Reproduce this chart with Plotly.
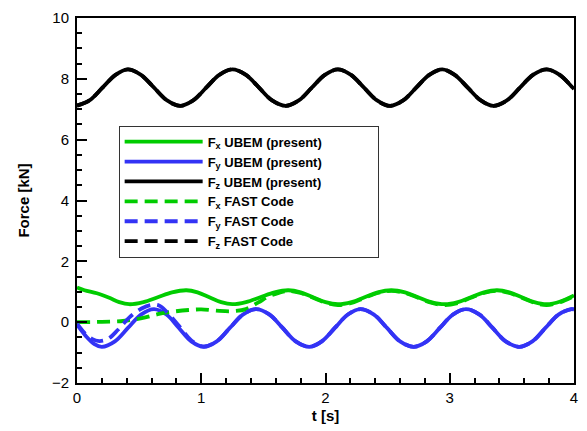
import plotly.graph_objects as go

# ---- data ----
t_fz = [0.0, 0.10, 0.205, 0.31, 0.41, 0.515, 0.62, 0.725, 0.83, 0.935, 1.04, 1.145, 1.25,
        1.36, 1.465, 1.57, 1.68, 1.785, 1.89, 1.995, 2.10, 2.205, 2.31, 2.415, 2.52,
        2.625, 2.73, 2.835, 2.94, 3.04, 3.145, 3.25, 3.35, 3.46, 3.565, 3.67, 3.78,
        3.885, 3.99, 4.0]
fz_ubem = [7.12, 7.29, 7.71, 8.13, 8.31, 8.13, 7.71, 7.29, 7.11, 7.29, 7.71, 8.13, 8.31,
           8.13, 7.71, 7.29, 7.11, 7.29, 7.71, 8.13, 8.31, 8.13, 7.71, 7.29, 7.11,
           7.29, 7.71, 8.13, 8.31, 8.13, 7.71, 7.29, 7.11, 7.29, 7.71, 8.13, 8.31,
           8.13, 7.71, 7.67]
fz_fast = [7.12, 7.29, 7.71, 8.13, 8.31, 8.13, 7.71, 7.29, 7.11, 7.29, 7.71, 8.13, 8.31,
           8.13, 7.71, 7.29, 7.11, 7.29, 7.71, 8.13, 8.31, 8.13, 7.71, 7.29, 7.11,
           7.29, 7.71, 8.13, 8.31, 8.13, 7.71, 7.29, 7.11, 7.29, 7.71, 8.13, 8.31,
           8.13, 7.71, 7.67]

t_fx = [0.0, 0.06, 0.16, 0.26, 0.34, 0.42, 0.535, 0.65, 0.765, 0.88, 0.97, 1.065, 1.16, 1.25,
        1.36, 1.475, 1.59, 1.70, 1.80, 1.90, 2.00, 2.10, 2.21, 2.315, 2.42, 2.53,
        2.64, 2.745, 2.85, 2.96, 3.065, 3.17, 3.275, 3.38, 3.48, 3.58, 3.68, 3.78,
        3.89, 4.0]
fx_ubem = [1.14, 1.05, 0.95, 0.80, 0.66, 0.59, 0.66, 0.82, 0.98, 1.05, 0.98, 0.82, 0.66, 0.59,
           0.66, 0.82, 0.98, 1.05, 0.98, 0.82, 0.66, 0.59, 0.66, 0.82, 0.98, 1.05,
           0.98, 0.82, 0.66, 0.59, 0.66, 0.82, 0.98, 1.05, 0.98, 0.82, 0.66, 0.59,
           0.68, 0.88]

t_fx_fast = [0.0, 0.20, 0.35, 0.45, 0.55, 0.66, 0.78, 0.90, 1.00, 1.12, 1.25, 1.36, 1.46,
             1.54, 1.63, 1.70, 1.80, 1.90, 2.00, 2.10, 2.21, 2.315, 2.42, 2.53,
             2.64, 2.745, 2.85, 2.96, 3.065, 3.17, 3.275, 3.38, 3.48, 3.58, 3.68, 3.78,
             3.89, 4.0]
fx_fast = [0.0, 0.01, 0.03, 0.08, 0.16, 0.27, 0.35, 0.40, 0.42, 0.38, 0.36, 0.43, 0.65,
           0.84, 0.97, 1.03, 0.96, 0.80, 0.64, 0.56, 0.63, 0.80, 0.96, 1.03,
           0.96, 0.80, 0.64, 0.56, 0.63, 0.80, 0.96, 1.03, 0.96, 0.80, 0.64, 0.56,
           0.66, 0.86]

t_fy = [0.0, 0.07, 0.14, 0.20, 0.305, 0.41, 0.515, 0.62, 0.72, 0.82, 0.92, 1.02,
        1.125, 1.23, 1.335, 1.44, 1.55, 1.655, 1.76, 1.87, 1.97, 2.075, 2.18, 2.28,
        2.39, 2.495, 2.60, 2.71, 2.815, 2.92, 3.025, 3.13, 3.24, 3.345, 3.45, 3.56,
        3.665, 3.77, 3.875, 3.98, 4.0]
fy_ubem = [-0.08, -0.45, -0.72, -0.81, -0.63, -0.19, 0.25, 0.43, 0.25, -0.19, -0.63, -0.81,
           -0.63, -0.19, 0.25, 0.43, 0.25, -0.19, -0.63, -0.81, -0.63, -0.19, 0.25, 0.43,
           0.25, -0.19, -0.63, -0.81, -0.63, -0.19, 0.25, 0.43, 0.25, -0.19, -0.63, -0.81,
           -0.63, -0.19, 0.25, 0.43, 0.42]

t_fy_fast = [0.0, 0.06, 0.12, 0.18, 0.25, 0.33, 0.42, 0.52, 0.60, 0.66, 0.72, 0.82, 0.92, 1.02,
             1.125, 1.23, 1.335, 1.44, 1.55, 1.655, 1.76, 1.87, 1.97, 2.075, 2.18, 2.28,
             2.39, 2.495, 2.60, 2.71, 2.815, 2.92, 3.025, 3.13, 3.24, 3.345, 3.45, 3.56,
             3.665, 3.77, 3.875, 3.98, 4.0]
fy_fast = [-0.05, -0.35, -0.55, -0.62, -0.55, -0.25, 0.15, 0.45, 0.57, 0.55, 0.35, -0.12, -0.60, -0.80,
           -0.63, -0.19, 0.25, 0.43, 0.25, -0.19, -0.63, -0.81, -0.63, -0.19, 0.25, 0.43,
           0.25, -0.19, -0.63, -0.81, -0.63, -0.19, 0.25, 0.43, 0.25, -0.19, -0.63, -0.81,
           -0.63, -0.19, 0.25, 0.43, 0.42]

legend_names = ["F<sub>x</sub> UBEM (present)", "F<sub>y</sub> UBEM (present)",
                "F<sub>z</sub> UBEM (present)", "F<sub>x</sub> FAST Code",
                "F<sub>y</sub> FAST Code", "F<sub>z</sub> FAST Code"]

GREEN = "#00cc00"
BLUE = "#3333f5"
BLACK = "#000000"
W = 3.8
DASH = "13px,7px"
FONT = "Liberation Sans, Arial"
PAD = "\u2800" * 5  # blank glyphs that widen the legend box to the reference's width

fig = go.Figure()
series = [
    (t_fx, fx_ubem, legend_names[0], GREEN, "solid"),
    (t_fy, fy_ubem, legend_names[1], BLUE, "solid"),
    (t_fz, fz_ubem, legend_names[2], BLACK, "solid"),
    (t_fx_fast, fx_fast, legend_names[3], GREEN, DASH),
    (t_fy_fast, fy_fast, legend_names[4], BLUE, DASH),
    (t_fz, fz_fast, legend_names[5], BLACK, DASH),
]
for i, (x, y, name, c, d) in enumerate(series):
    label = name + PAD if i == 0 else name
    fig.add_trace(go.Scatter(x=x, y=y, name=label, mode="lines",
                             line=dict(color=c, width=W, dash=d, shape="spline", smoothing=1.0)))

axis_common = dict(
    showgrid=False, zeroline=False, showline=True, linecolor="black", linewidth=2,
    mirror=True, ticks="inside", ticklen=10, tickwidth=1.5, tickcolor="black",
    tickfont=dict(family=FONT, size=15, color="black"),
)
fig.update_xaxes(range=[0, 4], dtick=1, tick0=0,
                 minor=dict(ticks="inside", ticklen=5, dtick=0.2, tickcolor="black", tickwidth=1.5),
                 title=dict(text="<b>t [s]</b>", font=dict(family=FONT, size=15, color="black"),
                            standoff=5),
                 **axis_common)
fig.update_yaxes(range=[-2, 10], dtick=2, tick0=0,
                 minor=dict(ticks="inside", ticklen=5, dtick=0.5, tickcolor="black", tickwidth=1.5),
                 title=dict(text="<b>Force [kN]</b>", font=dict(family=FONT, size=15, color="black"),
                            standoff=19),
                 ticklabelstandoff=3,
                 **axis_common)

fig.update_layout(
    width=587, height=431,
    margin=dict(l=77, r=9, t=14, b=47),
    paper_bgcolor="white", plot_bgcolor="white",
    showlegend=True,
    legend=dict(x=0.0838, y=0.705, xanchor="left", yanchor="top",
                bgcolor="white", bordercolor="#333333", borderwidth=1,
                font=dict(family=FONT, size=13, color="black", weight="bold"),
                tracegroupgap=0, itemwidth=78),
)

fig.write_html("out.html")
